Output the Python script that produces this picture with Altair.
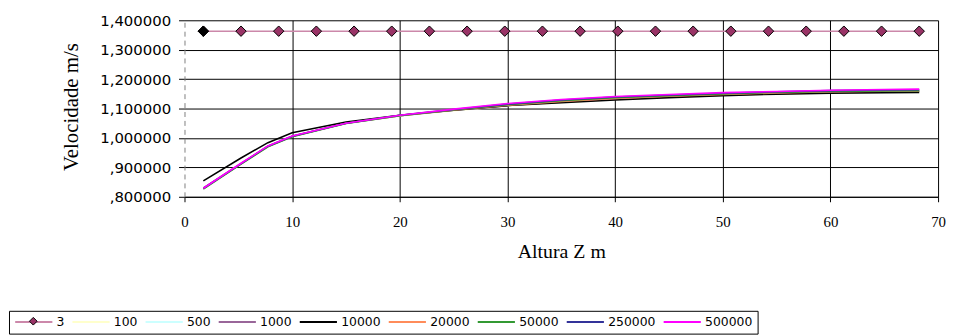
import altair as alt
import pandas as pd

# ---- data ----
SERIES = ["3", "100", "500", "1000", "10000", "20000", "50000", "250000", "500000"]
LINE_COLORS = ["#cc88aa", "#ffffcc", "#ccffff", "#996699", "#000000",
               "#ff8c5a", "#339933", "#333399", "#ff00ff"]

X_TICKS = [0, 10, 20, 30, 40, 50, 60, 70]
Y_TICKS = [0.8, 0.9, 1.0, 1.1, 1.2, 1.3, 1.4]

Z_MARKERS = [1.75, 5.25, 8.75, 12.25, 15.75, 19.25, 22.75, 26.25, 29.75, 33.25,
             36.75, 40.25, 43.75, 47.25, 50.75, 54.25, 57.75, 61.25, 64.75, 68.25]
V_3 = [1.363, 1.363, 1.363, 1.363, 1.363, 1.363, 1.363, 1.363, 1.363, 1.363,
       1.363, 1.363, 1.363, 1.363, 1.363, 1.363, 1.363, 1.363, 1.363, 1.363]

Z_LINE = [1.75, 5.25, 7.75, 10.0, 15.0, 20.0, 25.0, 30.0, 35.0, 40.0,
          45.0, 50.0, 55.0, 60.0, 65.0, 68.25]
V_100 = [0.830, 0.914, 0.973, 1.006, 1.049, 1.075, 1.093, 1.109, 1.121, 1.131,
         1.139, 1.145, 1.150, 1.154, 1.157, 1.158]
V_500 = [0.829, 0.913, 0.972, 1.006, 1.049, 1.075, 1.094, 1.110, 1.122, 1.132,
         1.140, 1.146, 1.151, 1.155, 1.158, 1.159]
V_1000 = [0.829, 0.913, 0.972, 1.006, 1.050, 1.076, 1.094, 1.110, 1.122, 1.132,
          1.140, 1.146, 1.151, 1.155, 1.158, 1.159]
V_10000 = [0.854, 0.932, 0.984, 1.018, 1.054, 1.077, 1.094, 1.110, 1.120, 1.129,
           1.137, 1.144, 1.149, 1.152, 1.154, 1.155]
V_20000 = [0.828, 0.912, 0.971, 1.005, 1.050, 1.076, 1.095, 1.111, 1.124, 1.134,
           1.142, 1.148, 1.153, 1.157, 1.159, 1.160]
V_50000 = [0.826, 0.911, 0.970, 1.004, 1.049, 1.076, 1.096, 1.113, 1.127, 1.137,
           1.144, 1.150, 1.155, 1.158, 1.160, 1.161]
V_250000 = [0.829, 0.913, 0.972, 1.006, 1.050, 1.077, 1.097, 1.115, 1.129, 1.139,
            1.146, 1.152, 1.157, 1.161, 1.163, 1.164]
V_500000 = [0.829, 0.914, 0.973, 1.007, 1.050, 1.077, 1.098, 1.117, 1.131, 1.141,
            1.148, 1.154, 1.158, 1.162, 1.165, 1.166]

# legend line symbol (custom path, drawn to the right of its slot)
LINE_PATH = "M-1,0L6.5,0"

line_values = {
    "100": V_100, "500": V_500, "1000": V_1000, "10000": V_10000,
    "20000": V_20000, "50000": V_50000, "250000": V_250000, "500000": V_500000,
}
rows = [{"series": "3", "Z": z, "V": v} for z, v in zip(Z_MARKERS, V_3)]
for s in SERIES[1:]:
    rows += [{"series": s, "Z": z, "V": v} for z, v in zip(Z_LINE, line_values[s])]
lines_df = pd.DataFrame(rows)
markers_df = pd.DataFrame({"series": ["3"] * len(Z_MARKERS), "Z": Z_MARKERS, "V": V_3})
first_df = pd.DataFrame({"series": ["3"], "Z": [Z_MARKERS[0]], "V": [V_3[0]]})

x_scale = alt.Scale(domain=[0, 70], nice=False, zero=False)
y_scale = alt.Scale(domain=[0.8, 1.4], nice=False, zero=False)

x_axis = alt.Axis(
    values=X_TICKS, title="Altura Z m",
    titleFont="Liberation Serif", titleFontSize=20, titleFontWeight="normal",
    titleColor="black", titleY=55, titleBaseline="middle",
    labelFont="Liberation Serif", labelFontSize=15, labelColor="black",
    labelPadding=13, labelFlush=False, labelOverlap=False,
    tickSize=5, tickColor="black", domainColor="black",
    gridColor="black", gridWidth=1,
    gridOpacity={"condition": {"test": "datum.value === 0", "value": 0}, "value": 1},
)
y_axis = alt.Axis(
    values=Y_TICKS, title="Velocidade m/s",
    titleFont="Liberation Serif", titleFontSize=21, titleFontWeight="normal",
    titleColor="black", titleX=-114, titleY=87, titleAngle=270,
    titleBaseline="middle", titleAlign="center",
    labelFont="DejaVu Sans", labelFontSize=15, labelColor="black",
    labelPadding=8, labelOverlap=False,
    labelExpr="datum.value < 1 ? replace(format(datum.value, '.6f'), '0.', ',') : replace(format(datum.value, '.6f'), '.', ',')",
    tickSize=6, tickColor="black",
    domainColor="#808080", domainDash=[5, 4], domainWidth=1,
    gridColor="black", gridWidth=1,
)

line_legend = alt.Legend(
    title=None, orient="none", legendX=-177, legendY=293, direction="horizontal",
    strokeColor="black", fillColor="white", padding=5,
    columnPadding=3.75, labelOffset=30.5, symbolSize=100, symbolStrokeWidth=2,
    symbolType=LINE_PATH,
    labelFont="DejaVu Sans", labelFontSize=12.5, labelColor="black",
)
# diamond placed on the "3" entry's line
diamond_legend = alt.Legend(
    title=None, orient="none", legendX=-157, legendY=299, direction="horizontal",
    padding=0, symbolSize=60, symbolStrokeWidth=1,
    labelExpr="''", labelFontSize=1,
)

X = alt.X("Z:Q", scale=x_scale, axis=x_axis)
Y = alt.Y("V:Q", scale=y_scale, axis=y_axis)

lines = alt.Chart(lines_df).mark_line(strokeWidth=1.6).encode(
    x=X, y=Y,
    color=alt.Color("series:N", scale=alt.Scale(domain=SERIES, range=LINE_COLORS), legend=line_legend),
)

markers = alt.Chart(markers_df).mark_point(
    filled=True, fill="#993366", size=110, stroke="black", strokeWidth=1, opacity=1
).encode(
    x=X, y=Y,
    shape=alt.Shape("series:N", scale=alt.Scale(domain=["3"], range=["diamond"]), legend=diamond_legend),
)

first_marker = alt.Chart(first_df).mark_point(
    shape="diamond", filled=True, fill="black", size=110, stroke="black", strokeWidth=1, opacity=1
).encode(x=X, y=Y)

chart = alt.layer(lines, markers, first_marker).properties(
    width=760, height=178,
    autosize=alt.AutoSizeParams(type="none"),
    padding={"left": 178, "top": 11, "right": 8, "bottom": 139},
    background="white",
).configure_view(strokeWidth=0)

chart.save("out.html", embed_options={"renderer": "svg", "actions": False})
